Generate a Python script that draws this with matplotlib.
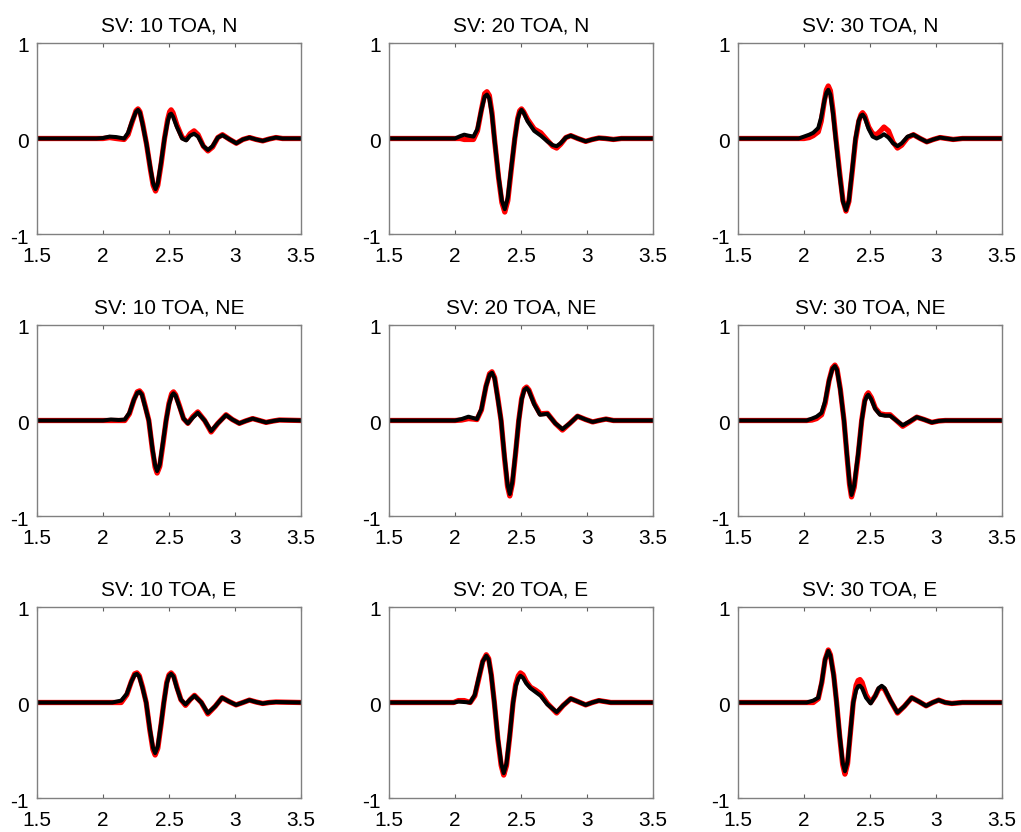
import matplotlib.pyplot as plt
from matplotlib.transforms import ScaledTranslation

plt.rcParams['font.family'] = ['Liberation Sans', 'DejaVu Sans']

# panel titles (rows: N, NE, E / cols: TOA 10, 20, 30)
toas = [10, 20, 30]
comps = ['N', 'NE', 'E']

# ---- SV 10, N
t_10n = [1.5, 1.95, 2.0, 2.05, 2.1, 2.16, 2.19, 2.22, 2.25, 2.265, 2.28, 2.30, 2.33, 2.36, 2.38,
         2.398, 2.415, 2.44, 2.466, 2.49, 2.505, 2.516, 2.53, 2.56, 2.60, 2.63, 2.66, 2.69, 2.72,
         2.76, 2.795, 2.83, 2.87, 2.905, 2.96, 3.01, 3.06, 3.11, 3.16, 3.21, 3.26, 3.31, 3.36, 3.5]
blk_10n = [0, 0, 0.005, 0.02, 0.015, 0.0, 0.06, 0.18, 0.28, 0.30, 0.27, 0.15, -0.06, -0.32, -0.47,
           -0.53, -0.47, -0.25, 0.0, 0.18, 0.25, 0.26, 0.23, 0.12, 0.0, -0.02, 0.03, 0.05, 0.02,
           -0.08, -0.12, -0.08, 0.01, 0.035, -0.01, -0.05, -0.01, 0.01, -0.01, -0.025, -0.005, 0.01, 0, 0]
red_10n = [0, 0, 0.0, 0.01, 0.0, -0.01, 0.04, 0.17, 0.29, 0.31, 0.28, 0.16, -0.06, -0.33, -0.49,
           -0.55, -0.49, -0.27, 0.0, 0.20, 0.28, 0.30, 0.27, 0.14, 0.01, -0.01, 0.05, 0.08, 0.04,
           -0.08, -0.13, -0.09, 0.01, 0.04, -0.01, -0.05, -0.01, 0.01, -0.01, -0.025, -0.005, 0.01, 0, 0]

# ---- SV 20, N
t_20n = [1.5, 2.0, 2.04, 2.07, 2.10, 2.14, 2.17, 2.20, 2.225, 2.242, 2.26, 2.28, 2.30, 2.33, 2.355,
         2.377, 2.40, 2.425, 2.453, 2.475, 2.49, 2.504, 2.52, 2.55, 2.60, 2.65, 2.70, 2.74, 2.77,
         2.80, 2.84, 2.877, 2.93, 2.99, 3.04, 3.09, 3.14, 3.2, 3.26, 3.5]
blk_20n = [0, 0.0, 0.025, 0.04, 0.03, 0.02, 0.10, 0.30, 0.44, 0.46, 0.42, 0.25, -0.02, -0.40, -0.65,
           -0.74, -0.62, -0.32, 0.0, 0.20, 0.27, 0.30, 0.27, 0.18, 0.08, 0.03, -0.03, -0.07, -0.08,
           -0.05, 0.01, 0.03, 0.0, -0.03, -0.01, 0.005, 0.0, -0.01, 0.0, 0]
red_20n = [0, 0.0, 0.0, -0.01, -0.01, -0.01, 0.08, 0.30, 0.47, 0.49, 0.45, 0.27, -0.02, -0.41, -0.67,
           -0.77, -0.65, -0.34, 0.0, 0.21, 0.29, 0.31, 0.28, 0.20, 0.10, 0.06, -0.02, -0.08, -0.10,
           -0.06, 0.01, 0.03, 0.0, -0.03, -0.01, 0.005, 0.0, -0.01, 0.0, 0]

# ---- SV 30, N
t_30n = [1.5, 1.96, 2.0, 2.04, 2.07, 2.108, 2.13, 2.155, 2.17, 2.184, 2.20, 2.22, 2.24, 2.27, 2.295,
         2.318, 2.34, 2.365, 2.39, 2.415, 2.432, 2.444, 2.46, 2.49, 2.52, 2.55, 2.58, 2.606, 2.64,
         2.675, 2.708, 2.74, 2.785, 2.829, 2.88, 2.93, 2.98, 3.03, 3.08, 3.13, 3.2, 3.5]
blk_30n = [0, 0.0, 0.02, 0.04, 0.06, 0.11, 0.22, 0.40, 0.48, 0.51, 0.46, 0.26, 0.0, -0.38, -0.66,
           -0.75, -0.65, -0.33, 0.0, 0.19, 0.24, 0.25, 0.22, 0.10, 0.02, 0.0, 0.02, 0.045, 0.01,
           -0.05, -0.08, -0.05, 0.02, 0.04, 0.0, -0.035, -0.01, 0.01, 0.0, -0.01, 0.0, 0]
red_30n = [0, 0.0, 0.0, 0.01, 0.03, 0.07, 0.18, 0.40, 0.51, 0.55, 0.50, 0.29, 0.02, -0.36, -0.65,
           -0.76, -0.66, -0.35, -0.02, 0.18, 0.25, 0.27, 0.24, 0.12, 0.05, 0.04, 0.08, 0.12, 0.08,
           -0.04, -0.10, -0.07, 0.01, 0.04, 0.0, -0.035, -0.01, 0.01, 0.0, -0.01, 0.0, 0]

# ---- SV 10, NE
t_10ne = [1.5, 2.0, 2.06, 2.12, 2.165, 2.20, 2.235, 2.26, 2.277, 2.295, 2.32, 2.347, 2.375, 2.395,
          2.41, 2.43, 2.455, 2.478, 2.50, 2.52, 2.534, 2.55, 2.58, 2.61, 2.643, 2.68, 2.718, 2.77,
          2.819, 2.87, 2.932, 2.98, 3.033, 3.08, 3.134, 3.185, 3.235, 3.29, 3.336, 3.5]
blk_10ne = [0, 0.0, 0.01, 0.005, 0.01, 0.08, 0.22, 0.29, 0.30, 0.27, 0.14, 0.0, -0.30, -0.47,
            -0.53, -0.46, -0.22, 0.0, 0.17, 0.26, 0.285, 0.26, 0.14, 0.02, -0.03, 0.03, 0.08, 0.0,
            -0.11, -0.03, 0.056, 0.01, -0.03, -0.005, 0.02, 0.0, -0.02, -0.005, 0.005, 0]
red_10ne = [0, 0.0, 0.0, 0.0, 0.0, 0.07, 0.22, 0.30, 0.31, 0.28, 0.15, 0.0, -0.31, -0.49,
            -0.55, -0.48, -0.24, 0.0, 0.18, 0.28, 0.30, 0.27, 0.15, 0.02, -0.03, 0.04, 0.09, 0.0,
            -0.12, -0.03, 0.06, 0.01, -0.03, -0.005, 0.02, 0.0, -0.02, -0.005, 0.005, 0]

# ---- SV 20, NE
t_20ne = [1.5, 2.0, 2.05, 2.102, 2.14, 2.166, 2.20, 2.235, 2.262, 2.28, 2.30, 2.325, 2.349, 2.375,
          2.398, 2.415, 2.435, 2.46, 2.483, 2.505, 2.525, 2.542, 2.56, 2.60, 2.644, 2.70, 2.76,
          2.814, 2.87, 2.928, 2.99, 3.043, 3.09, 3.144, 3.2, 3.26, 3.5]
blk_20ne = [0, 0.0, 0.015, 0.04, 0.025, 0.015, 0.12, 0.36, 0.48, 0.50, 0.44, 0.22, 0.0, -0.38,
            -0.67, -0.77, -0.64, -0.32, 0.0, 0.22, 0.32, 0.34, 0.31, 0.17, 0.06, 0.07, -0.03,
            -0.09, -0.03, 0.045, 0.01, -0.015, 0.0, 0.015, 0.0, 0.0, 0]
red_20ne = [0, 0.0, 0.005, 0.02, 0.015, 0.01, 0.11, 0.36, 0.49, 0.51, 0.45, 0.23, 0.0, -0.39,
            -0.69, -0.79, -0.66, -0.33, 0.0, 0.23, 0.33, 0.35, 0.32, 0.18, 0.07, 0.075, -0.03,
            -0.10, -0.03, 0.045, 0.01, -0.015, 0.0, 0.015, 0.0, 0.0, 0]

# ---- SV 30, NE
t_30ne = [1.5, 2.02, 2.06, 2.095, 2.133, 2.16, 2.19, 2.215, 2.234, 2.25, 2.275, 2.303, 2.325, 2.345,
          2.36, 2.38, 2.41, 2.437, 2.46, 2.475, 2.487, 2.51, 2.54, 2.576, 2.615, 2.652, 2.70,
          2.748, 2.80, 2.854, 2.91, 2.968, 3.02, 3.07, 3.5]
blk_30ne = [0, 0.0, 0.02, 0.04, 0.08, 0.20, 0.42, 0.54, 0.57, 0.53, 0.32, 0.0, -0.35, -0.65,
            -0.78, -0.68, -0.35, 0.0, 0.20, 0.25, 0.27, 0.22, 0.12, 0.06, 0.05, 0.05, 0.0,
            -0.05, -0.01, 0.035, 0.01, -0.02, -0.005, 0.0, 0]
red_30ne = [0, 0.0, 0.005, 0.02, 0.06, 0.18, 0.42, 0.55, 0.58, 0.54, 0.33, 0.0, -0.36, -0.67,
            -0.80, -0.70, -0.37, 0.0, 0.21, 0.27, 0.29, 0.24, 0.13, 0.07, 0.06, 0.06, 0.0,
            -0.06, -0.015, 0.035, 0.01, -0.02, -0.005, 0.0, 0]

# ---- SV 10, E
t_10e = [1.5, 2.07, 2.138, 2.18, 2.215, 2.24, 2.257, 2.275, 2.30, 2.327, 2.355, 2.378, 2.395, 2.415,
         2.44, 2.461, 2.483, 2.50, 2.516, 2.535, 2.56, 2.59, 2.625, 2.66, 2.693, 2.745, 2.794, 2.85,
         2.902, 2.955, 3.008, 3.06, 3.109, 3.16, 3.21, 3.26, 3.31, 3.5]
blk_10e = [0, 0.0, 0.02, 0.09, 0.22, 0.29, 0.30, 0.27, 0.15, 0.0, -0.28, -0.47, -0.53, -0.46,
           -0.22, 0.0, 0.20, 0.28, 0.30, 0.27, 0.15, 0.03, -0.02, 0.03, 0.07, 0.0, -0.11, -0.04,
           0.05, 0.01, -0.025, 0.0, 0.025, 0.005, -0.01, 0.0, 0.005, 0]
red_10e = [0, 0.0, 0.0, 0.08, 0.22, 0.30, 0.31, 0.28, 0.16, 0.0, -0.29, -0.49, -0.55, -0.48,
           -0.23, 0.0, 0.21, 0.29, 0.31, 0.28, 0.16, 0.03, -0.03, 0.03, 0.075, 0.0, -0.12, -0.04,
           0.05, 0.01, -0.025, 0.0, 0.025, 0.005, -0.01, 0.0, 0.005, 0]

# ---- SV 20, E
t_20e = [1.5, 1.99, 2.026, 2.07, 2.115, 2.15, 2.18, 2.21, 2.237, 2.255, 2.275, 2.298, 2.325, 2.35,
         2.369, 2.39, 2.415, 2.44, 2.46, 2.48, 2.496, 2.515, 2.54, 2.572, 2.61, 2.649, 2.70, 2.77,
         2.82, 2.877, 2.93, 2.99, 3.04, 3.09, 3.18, 3.5]
blk_20e = [0, 0.0, 0.01, 0.005, 0.0, 0.08, 0.26, 0.43, 0.49, 0.45, 0.28, 0.0, -0.38, -0.64,
           -0.74, -0.64, -0.34, 0.0, 0.17, 0.25, 0.28, 0.26, 0.20, 0.15, 0.11, 0.07, -0.02, -0.10,
           -0.03, 0.04, 0.01, -0.025, 0.0, 0.02, 0.0, 0]
red_20e = [0, 0.0, 0.02, 0.02, 0.0, 0.07, 0.25, 0.43, 0.50, 0.46, 0.29, 0.0, -0.39, -0.66,
           -0.76, -0.66, -0.35, 0.0, 0.19, 0.28, 0.31, 0.29, 0.22, 0.16, 0.13, 0.09, -0.01, -0.11,
           -0.03, 0.04, 0.01, -0.025, 0.0, 0.02, 0.0, 0]

# ---- SV 30, E
t_30e = [1.5, 2.02, 2.07, 2.108, 2.135, 2.16, 2.184, 2.20, 2.225, 2.247, 2.27, 2.293, 2.31, 2.33,
         2.352, 2.373, 2.395, 2.41, 2.424, 2.44, 2.47, 2.505, 2.54, 2.565, 2.589, 2.61, 2.655,
         2.708, 2.76, 2.816, 2.87, 2.925, 2.975, 3.02, 3.07, 3.12, 3.2, 3.5]
blk_30e = [0, 0.0, 0.02, 0.05, 0.22, 0.45, 0.54, 0.49, 0.28, 0.0, -0.34, -0.63, -0.72, -0.62,
           -0.30, 0.0, 0.13, 0.17, 0.175, 0.15, 0.05, -0.01, 0.07, 0.15, 0.175, 0.15, 0.02,
           -0.105, -0.04, 0.05, 0.01, -0.035, 0.0, 0.025, 0.0, -0.01, 0.0, 0]
red_30e = [0, 0.0, 0.0, 0.04, 0.21, 0.45, 0.55, 0.50, 0.29, 0.0, -0.35, -0.65, -0.75, -0.64,
           -0.31, 0.0, 0.18, 0.23, 0.24, 0.21, 0.08, 0.0, 0.07, 0.14, 0.16, 0.14, 0.02,
           -0.11, -0.04, 0.05, 0.01, -0.035, 0.0, 0.025, 0.0, -0.01, 0.0, 0]

panels = [
    [(t_10n, red_10n, blk_10n), (t_20n, red_20n, blk_20n), (t_30n, red_30n, blk_30n)],
    [(t_10ne, red_10ne, blk_10ne), (t_20ne, red_20ne, blk_20ne), (t_30ne, red_30ne, blk_30ne)],
    [(t_10e, red_10e, blk_10e), (t_20e, red_20e, blk_20e), (t_30e, red_30e, blk_30e)],
]

W, H = 1021, 832
fig = plt.figure(figsize=(W / 100, H / 100), dpi=100)

col_left = [37, 389, 738]
row_top = [43, 325, 607]
ax_w, ax_h = 264, 191

for i, comp in enumerate(comps):
    for j, toa in enumerate(toas):
        ax = fig.add_axes([col_left[j] / W, 1 - (row_top[i] + ax_h) / H, ax_w / W, ax_h / H])
        t, r, b = panels[i][j]
        ax.plot(t, r, color='red', lw=3.8, solid_joinstyle='round', solid_capstyle='round')
        ax.plot(t, b, color='black', lw=2.9, solid_joinstyle='round', solid_capstyle='round')
        ax.set_xlim(1.5, 3.5)
        ax.set_ylim(-1, 1)
        ax.set_xticks([1.5, 2, 2.5, 3, 3.5])
        ax.set_xticklabels(['1.5', '2', '2.5', '3', '3.5'])
        ax.set_yticks([-1, 0, 1])
        ax.set_yticklabels(['-1', '0', '1'])
        ax.tick_params(direction='in', length=3, width=0.8, color='#606060',
                       top=True, right=True, labelsize=15)
        ax.tick_params(axis='x', pad=9.5)
        ax.tick_params(axis='y', pad=6)
        for s in ax.spines.values():
            s.set_color('#808080')
            s.set_linewidth(1.0)
        off = ScaledTranslation(0, -2 / 100, fig.dpi_scale_trans)
        for lab in ax.get_yticklabels():
            lab.set_transform(lab.get_transform() + off)
        ax.set_title(f'SV: {toa} TOA, {comp}', fontsize=15, pad=8)

fig.savefig('out.png', dpi=100)
